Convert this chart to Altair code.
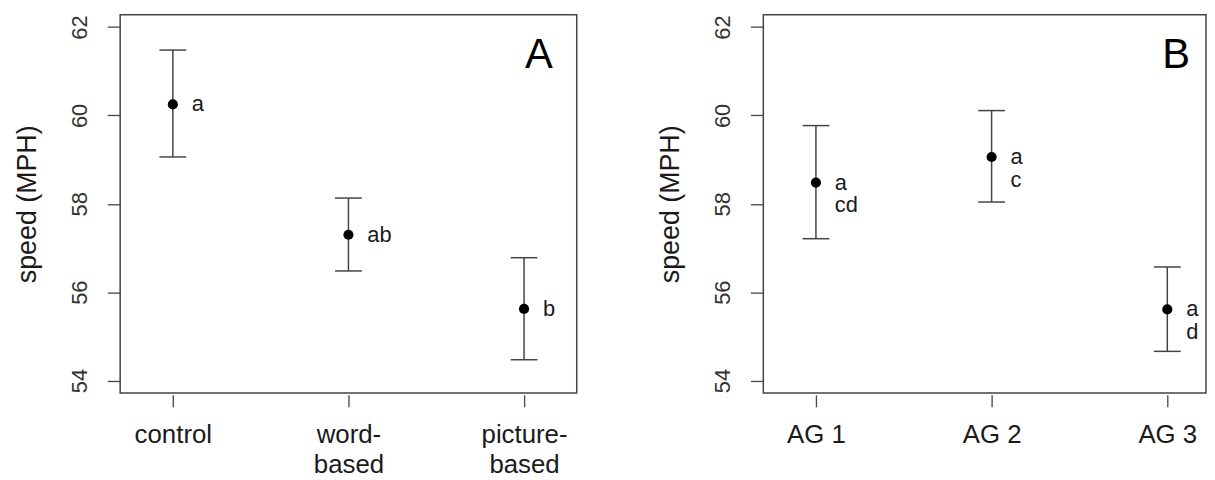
import pandas as pd
import altair as alt

# panel A: sign type
groups_a = ["control", "word-based", "picture-based"]
mean_a = [60.25, 57.30, 55.62]
upper_a = [61.48, 58.13, 56.78]
lower_a = [59.06, 56.48, 54.47]
letters_a = ["a", "ab", "b"]

# panel B: age group
groups_b = ["AG 1", "AG 2", "AG 3"]
mean_b = [58.48, 59.06, 55.61]
upper_b = [59.77, 60.11, 56.57]
lower_b = [57.21, 58.04, 54.66]
letters_b = ["a\ncd", "a\nc", "a\nd"]

y_ticks = [54, 56, 58, 60, 62]

FONT = "Liberation Sans"
INK = "#1a1a1a"
LINE = "#444444"


def panel(groups, mean, upper, lower, letters, tag, width, xscale, tag_x):
    df = pd.DataFrame({"group": groups, "mean": mean, "upper": upper,
                       "lower": lower, "letter": letters})
    yscale = alt.Scale(domain=[53.72, 62.28], nice=False, zero=False)
    xaxis = alt.Axis(labelExpr="split(replace(datum.label, '-', '-|'), '|')",
                     labelAngle=0, labelFontSize=26, labelLineHeight=30,
                     labelPadding=15, labelColor=INK, tickSize=12, tickColor=LINE,
                     tickWidth=1.3, offset=2, domain=False, grid=False)
    yaxis = alt.Axis(values=y_ticks, labelAngle=270, labelAlign="center",
                     labelBaseline="bottom", labelFontSize=22, labelPadding=16,
                     labelColor="#333333", titleFontSize=27, titlePadding=27,
                     titleFontWeight="normal", titleColor=INK, tickSize=13,
                     tickColor=LINE, tickWidth=1.3, domain=False, grid=False)

    def xenc():
        return alt.X("group:N", sort=groups, scale=xscale, title=None, axis=xaxis)

    def yenc(field):
        return alt.Y(field + ":Q", scale=yscale, title="speed (MPH)", axis=yaxis)

    base = alt.Chart(df)
    stem = base.mark_rule(color=LINE, strokeWidth=1.5).encode(
        x=xenc(), y=yenc("lower"), y2="upper:Q")
    cap_hi = base.mark_tick(size=27, thickness=1.5, color=LINE, opacity=1).encode(
        x=xenc(), y=yenc("upper"))
    cap_lo = base.mark_tick(size=27, thickness=1.5, color=LINE, opacity=1).encode(
        x=xenc(), y=yenc("lower"))
    dots = base.mark_circle(size=105, color="black", opacity=1).encode(
        x=xenc(), y=yenc("mean"))
    marks = base.mark_text(align="left", baseline="middle", dx=19, fontSize=22,
                           font=FONT, color=INK, lineBreak="\n", lineHeight=23).encode(
        x=xenc(), y=yenc("mean"), text="letter:N")
    label = alt.Chart(pd.DataFrame({"tag": [tag]})).mark_text(
        fontSize=42, font=FONT, color="black", baseline="middle").encode(
        x=alt.value(tag_x), y=alt.value(41), text="tag:N")

    return alt.layer(stem, cap_hi, cap_lo, dots, marks, label).properties(
        width=width, height=381)


panel_a = panel(groups_a, mean_a, upper_a, lower_a, letters_a, "A", 460,
                alt.Scale(type="point", padding=0.3), 422)
panel_b = panel(groups_b, mean_b, upper_b, lower_b, letters_b, "B", 446,
                alt.Scale(type="point", padding=0, range=[53, 407]), 416)

chart = alt.hconcat(panel_a, panel_b, spacing=79).properties(
    padding={"left": 5, "top": 4, "right": 0, "bottom": 0}
).configure_view(stroke=LINE, strokeWidth=1.5).configure_axis(
    labelFont=FONT, titleFont=FONT)

chart.save("out.html", embed_options={"renderer": "svg", "actions": False})
